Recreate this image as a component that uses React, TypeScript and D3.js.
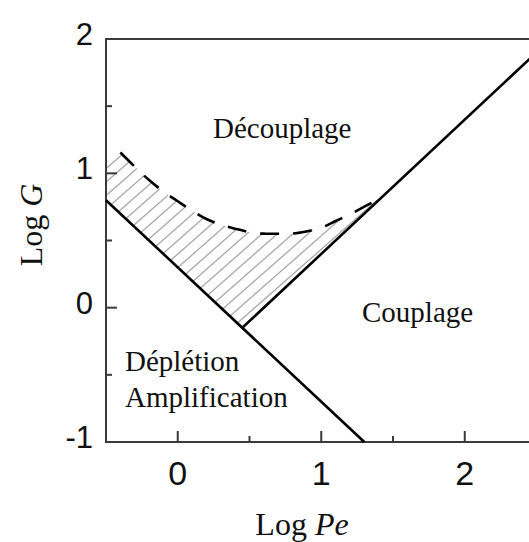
import React from "react";
import * as d3 from "d3";

// Axis ticks
const xTickValues = [0, 1, 2];
const xMinorTickValues = [0.5, 1.5];
const yTickValues = [-1, 0, 1, 2];
const yMinorTickValues = [-0.5, 0.5, 1.5];

// Boundary lines
const line1X = [-0.5, 1.3];
const line1Y = [0.8, -1.0];
const line2X = [0.45, 2.5];
const line2Y = [-0.15, 1.9];

// Dashed boundary (upper limit of hatched zone)
const curveX = [-0.5, -0.4, -0.3, -0.2, -0.1, 0.0, 0.1, 0.2, 0.3, 0.4, 0.5, 0.6, 0.7, 0.8, 0.9, 1.0, 1.1, 1.2, 1.3, 1.42];
const curveY = [1.07, 1.155, 1.05, 0.95, 0.865, 0.792, 0.722, 0.66, 0.617, 0.588, 0.563, 0.551, 0.55, 0.552, 0.568, 0.595, 0.645, 0.695, 0.752, 0.82];

// Region labels
const labelDecouplage = "Découplage";
const labelCouplage = "Couplage";
const labelDepletion = "Déplétion";
const labelAmplification = "Amplification";

const W = 529;
const H = 542;

export default function App() {
  const x = d3.scaleLinear().domain([-0.5, 2.5]).range([106, 536.5]);
  const y = d3.scaleLinear().domain([-1, 2]).range([442, 39]);

  const lineGen = d3
    .line<[number, number]>()
    .x((d) => x(d[0]))
    .y((d) => y(d[1]));
  const curveGen = d3
    .line<[number, number]>()
    .x((d) => x(d[0]))
    .y((d) => y(d[1]))
    .curve(d3.curveMonotoneX);

  const curvePts: [number, number][] = curveX.map((v, i) => [v, curveY[i]]);
  const l1: [number, number][] = line1X.map((v, i) => [v, line1Y[i]]);
  const l2: [number, number][] = line2X.map((v, i) => [v, line2Y[i]]);

  // hatched polygon: curve, then down line 2 to intersection, then line 1 to left axis
  const hatchPath =
    curveGen(curvePts) +
    `L${x(line2X[0])},${y(line2Y[0])}L${x(line1X[0])},${y(line1Y[0])}Z`;

  const m = 0.88; // slope of hatch lines (pixel)
  const spacing = 13.5;
  const hatchLines = d3.range(100, 700, spacing).map((c) => ({
    x1: 80,
    y1: c - m * 80,
    x2: 420,
    y2: c - m * 420,
  }));

  const axisColor = "#3a3a3a";
  const left = x(-0.5);
  const right = x(2.5);
  const top = y(2);
  const bottom = y(-1);

  return (
    <svg
      width={W}
      height={H}
      style={{ position: "absolute", left: 0, top: 0, background: "#fff" }}
    >
      <defs>
        <clipPath id="hatchClip">
          <path d={hatchPath} />
        </clipPath>
      </defs>

      {/* hatching */}
      <g clipPath="url(#hatchClip)">
        {hatchLines.map((l, i) => (
          <line key={i} x1={l.x1} y1={l.y1} x2={l.x2} y2={l.y2} stroke="#a8a8a8" strokeWidth={1.3} />
        ))}
      </g>

      {/* frame */}
      <rect x={left} y={top} width={right - left} height={bottom - top} fill="none" stroke={axisColor} strokeWidth={2} />

      {/* ticks */}
      {xTickValues.map((t) => (
        <line key={"xt" + t} x1={x(t)} x2={x(t)} y1={bottom} y2={bottom - 11} stroke={axisColor} strokeWidth={2} />
      ))}
      {xMinorTickValues.map((t) => (
        <line key={"xm" + t} x1={x(t)} x2={x(t)} y1={bottom} y2={bottom - 6} stroke={axisColor} strokeWidth={2} />
      ))}
      {yTickValues.map((t) => (
        <line key={"yt" + t} x1={left} x2={left + 11} y1={y(t)} y2={y(t)} stroke={axisColor} strokeWidth={2} />
      ))}
      {yMinorTickValues.map((t) => (
        <line key={"ym" + t} x1={left} x2={left + 6} y1={y(t)} y2={y(t)} stroke={axisColor} strokeWidth={2} />
      ))}

      {/* tick labels */}
      {xTickValues.map((t) => (
        <text key={"xl" + t} x={x(t)} y={485} textAnchor="middle" fontFamily="'Liberation Sans', Arial, sans-serif" fontSize={34} fill="#111">
          {t}
        </text>
      ))}
      {yTickValues.map((t) => (
        <text key={"yl" + t} x={93} y={y(t) + 6} textAnchor="end" fontFamily="'Liberation Sans', Arial, sans-serif" fontSize={31} fill="#111">
          {t}
        </text>
      ))}

      {/* boundary lines */}
      <path d={lineGen(l1) ?? ""} fill="none" stroke="#000" strokeWidth={2.6} />
      <path d={lineGen(l2) ?? ""} fill="none" stroke="#000" strokeWidth={2.6} />
      <path d={curveGen(curvePts.slice(1)) ?? ""} fill="none" stroke="#000" strokeWidth={2.6} strokeDasharray="19,14" />

      {/* region labels */}
      <g fontFamily="'Liberation Serif', 'Times New Roman', serif" fontSize={29} fill="#111">
        <text x={213} y={138}>{labelDecouplage}</text>
        <text x={362} y={322}>{labelCouplage}</text>
        <text x={125} y={371}>{labelDepletion}</text>
        <text x={125} y={407}>{labelAmplification}</text>
      </g>

      {/* axis titles */}
      <text x={302} y={535} textAnchor="middle" fontFamily="'Liberation Serif', 'Times New Roman', serif" fontSize={32} fill="#111">
        Log <tspan fontStyle="italic">Pe</tspan>
      </text>
      <text
        transform={`translate(42,225) rotate(-90)`}
        textAnchor="middle"
        fontFamily="'Liberation Serif', 'Times New Roman', serif"
        fontSize={32}
        fill="#111"
      >
        Log <tspan fontStyle="italic">G</tspan>
      </text>
    </svg>
  );
}
